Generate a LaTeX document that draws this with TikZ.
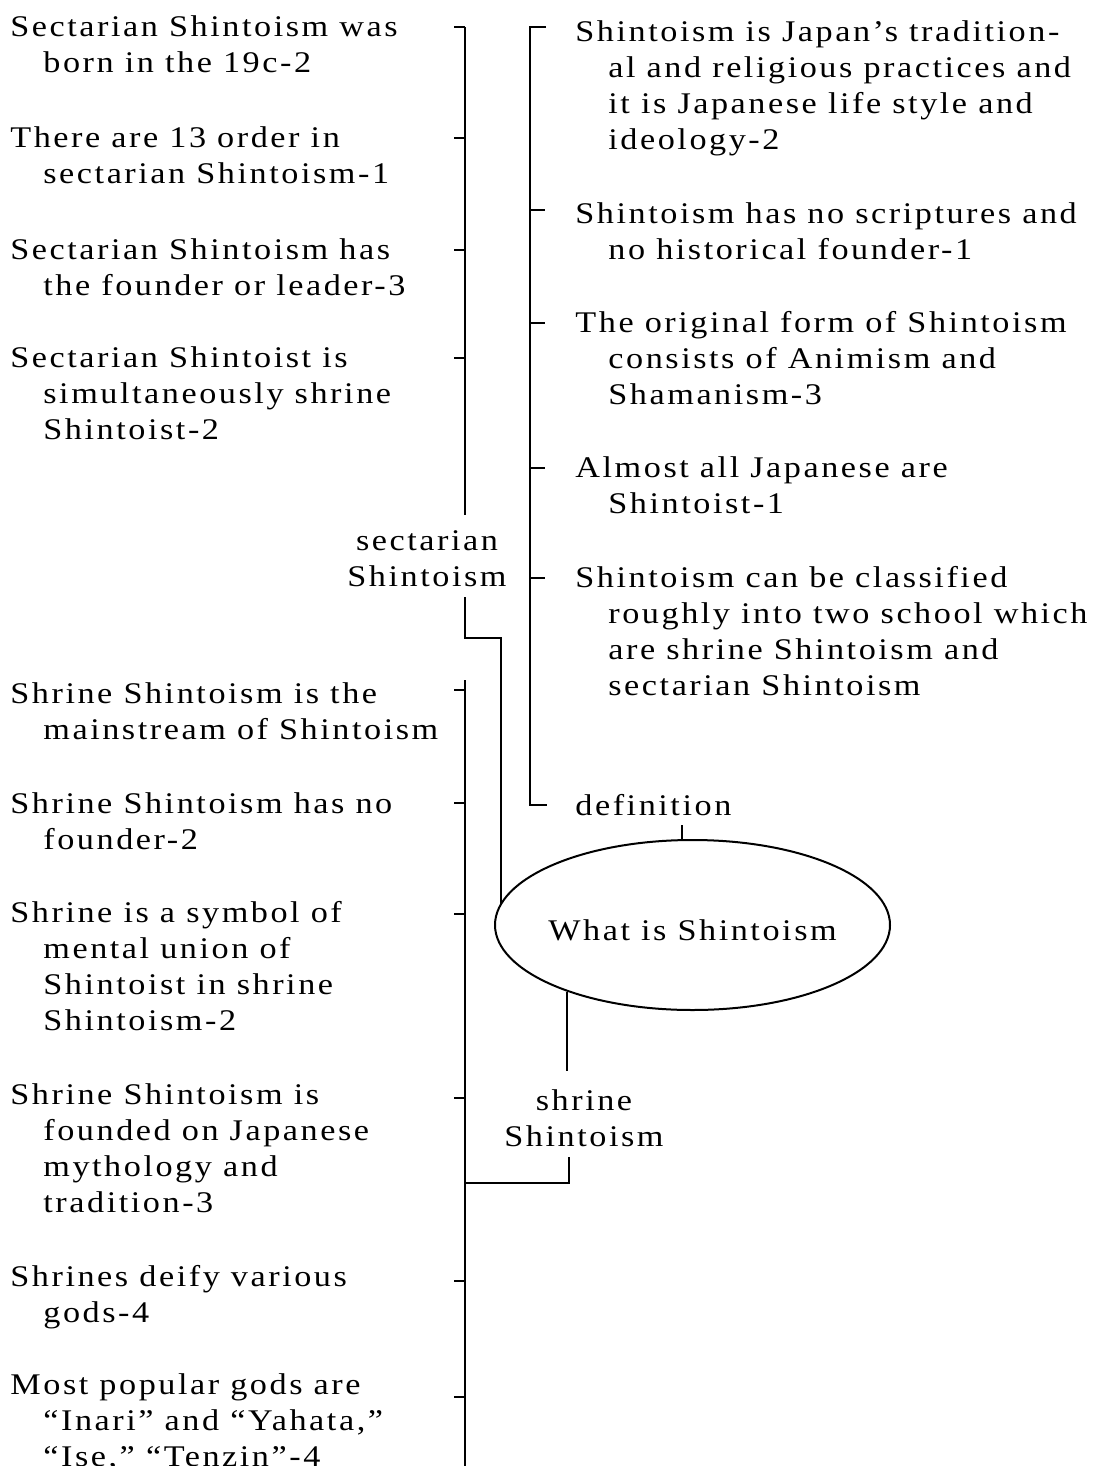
\documentclass[tikz,border=0pt]{standalone}
\usepackage{fontspec}
\setmainfont{Liberation Serif}[FakeStretch=1.14, LetterSpace=8.5]
\usetikzlibrary{shapes.geometric}
\newcommand\ind{\hspace*{16.5pt}}
\begin{document}
\begin{tikzpicture}[x=0.5pt,y=-0.5pt,
  txt/.style={anchor=north west, inner sep=0pt, align=left,
    font=\fontsize{15}{18}\selectfont, execute at begin node=\strut},
  lbl/.style={anchor=north, inner sep=0pt, align=center,
    font=\fontsize{15}{18}\selectfont, execute at begin node=\strut},
  conn/.style={line width=1.1pt},
]
\useasboundingbox (0,0) rectangle (1095,1466);

% central topic (text box of zero width so the ellipse keeps its set size)
\node[draw, ellipse, line width=1pt, minimum width=197.5pt, minimum height=85pt,
      inner sep=0pt, text height=15pt, text depth=0pt,
      font=\fontsize{15}{18}\selectfont] (root) at (692.5,925)
      {\makebox[0pt][c]{What is Shintoism}};

% branch labels
\node[lbl] (sect) at (427,530) {sectarian\\Shintoism};
\node[txt] (defn) at (575,790) {definition};
\node[lbl] (shr) at (584,1089) {shrine\\Shintoism};

% sectarian Shintoism items
\node[txt] (s1) at (10,15) {Sectarian Shintoism was\\\ind born in the 19c-2};
\node[txt] (s2) at (10,126) {There are 13 order in\\\ind sectarian Shintoism-1};
\node[txt] (s3) at (10,238) {Sectarian Shintoism has\\\ind the founder or leader-3};
\node[txt] (s4) at (10,346) {Sectarian Shintoist is\\\ind simultaneously shrine\\\ind Shintoist-2};

% definition items
\node[txt] (d1) at (575,20) {Shintoism is Japan’s tradition-\\\ind al and religious practices and\\\ind it is Japanese life style and\\\ind ideology-2};
\node[txt] (d2) at (575,202) {Shintoism has no scriptures and\\\ind no historical founder-1};
\node[txt] (d3) at (575,311) {The original form of Shintoism\\\ind consists of Animism and\\\ind Shamanism-3};
\node[txt] (d4) at (575,456) {Almost all Japanese are\\\ind Shintoist-1};
\node[txt] (d5) at (575,566) {Shintoism can be classified\\\ind roughly into two school which\\\ind are shrine Shintoism and\\\ind sectarian Shintoism};

% shrine Shintoism items
\node[txt] (h1) at (10,682) {Shrine Shintoism is the\\\ind mainstream of Shintoism};
\node[txt] (h2) at (10,792) {Shrine Shintoism has no\\\ind founder-2};
\node[txt] (h3) at (10,901) {Shrine is a symbol of\\\ind mental union of\\\ind Shintoist in shrine\\\ind Shintoism-2};
\node[txt] (h4) at (10,1083) {Shrine Shintoism is\\\ind founded on Japanese\\\ind mythology and\\\ind tradition-3};
\node[txt] (h5) at (10,1265) {Shrines deify various\\\ind gods-4};
\node[txt] (h6) at (10,1373) {Most popular gods are\\\ind “Inari” and “Yahata,”\\\ind “Ise,” “Tenzin”-4};

% spine coordinates
\coordinate (sTop) at (465,27);
\coordinate (sBot) at (465,515);
\coordinate (sj) at (465,638);
\coordinate (sk) at (501,638);
\coordinate (dTop) at (530,27);
\coordinate (dBot) at (530,805);
\coordinate (hTop) at (465,680);
\coordinate (hBot) at (465,1466);
\coordinate (hj) at (465,1183);
\coordinate (hk) at (569,1183);

% sectarian Shintoism bracket
\draw[conn] (sTop) -- (sBot);
\foreach \n/\yy in {s1/27,s2/138,s3/250,s4/358}
  \draw[conn] (465,\yy) -- ++(-11,0);
\draw[conn] (sect.south -| sj) -- (sj) -- (sk) -- (sk |- root.174);

% definition bracket
\draw[conn] (dTop) ++(16,0) -- (dTop) -- (dBot) -- ++(17,0);
\foreach \n/\yy in {d2/210,d3/323,d4/468,d5/578}
  \draw[conn] (530,\yy) -- ++(15,0);
\draw[conn] (root.97) -- ++(0,-14);

% shrine Shintoism bracket
\draw[conn] (hTop) -- (hBot);
\foreach \n/\yy in {h1/690,h2/803,h3/914,h4/1098,h5/1281,h6/1397}
  \draw[conn] (465,\yy) -- ++(-11,0);
\draw[conn] (root.208) -- ++(0,79);
\draw[conn] (hk |- shr.south) -- (hk) -- (hj);
\end{tikzpicture}
\end{document}
